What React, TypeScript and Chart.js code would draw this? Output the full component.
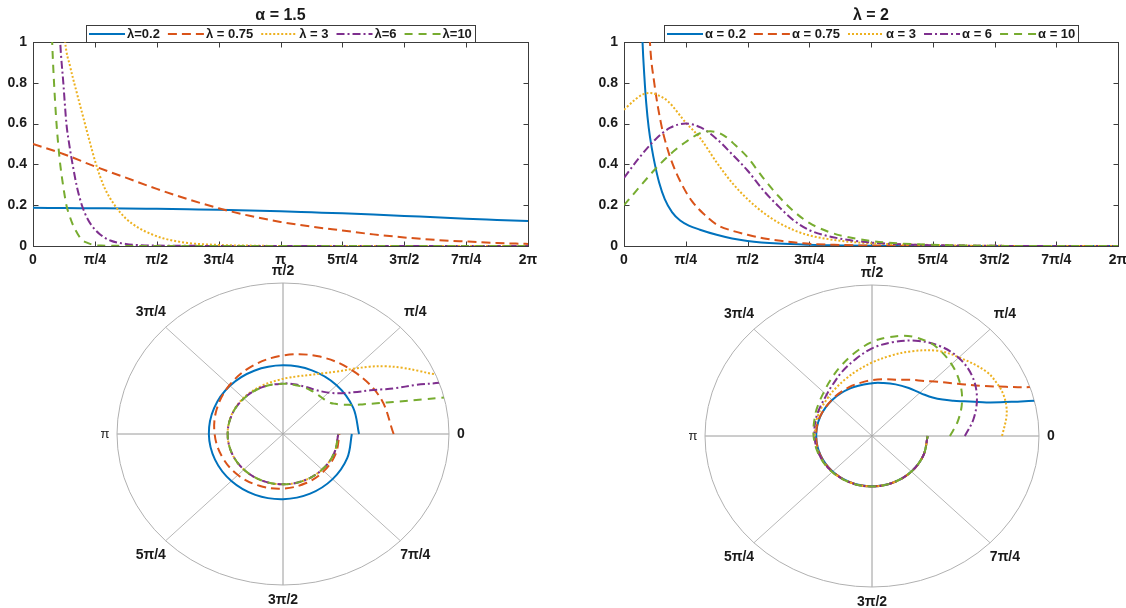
import React, { useEffect, useRef } from 'react';
import { Chart, registerables } from 'chart.js';

Chart.register(...registerables);

const FONT = '"Liberation Sans", Arial, Helvetica, sans-serif';
Chart.defaults.font.family = FONT;

const QUARTER = Math.PI / 4;

// ---- axis labels ----
const xTickLabels = ['0', 'π/4', 'π/2', '3π/4', 'π', '5π/4', '3π/2', '7π/4', '2π'];
const yTickValues = [0, 0.2, 0.4, 0.6, 0.8, 1];
const yTickLabels = ['0', '0.2', '0.4', '0.6', '0.8', '1'];
const polarAngleLabels = ['0', 'π/4', 'π/2', '3π/4', 'π', '5π/4', '3π/2', '7π/4'];
const polarRLim = [-0.5, 1];

const seriesColors = ['#0072BD', '#D95319', '#EDB120', '#7E2F8E', '#77AC30'];
const seriesDashes: number[][] = [[], [9, 5], [2, 2], [8, 3, 2, 3], [8, 6]];

// ---- left panel: alpha = 1.5 (angles in units of π/4) ----
const leftTitle = 'α = 1.5';
const leftNames = ['λ=0.2', 'λ = 0.75', 'λ = 3', 'λ=6', 'λ=10'];
const leftTheta1 = [0, 0.5, 1, 1.5, 2, 2.5, 3, 3.5, 4, 4.5, 5, 5.5, 6, 6.5, 7, 7.5, 8];
const leftF1 = [0.187, 0.186, 0.185, 0.184, 0.182, 0.18, 0.178, 0.174, 0.17, 0.165, 0.16, 0.154, 0.147, 0.141, 0.134, 0.128, 0.122];
const leftTheta2 = [0, 0.5, 1, 1.5, 2, 2.5, 3, 3.5, 4, 4.5, 5, 5.5, 6, 6.5, 7, 7.5, 8];
const leftF2 = [0.5, 0.45, 0.39, 0.335, 0.28, 0.23, 0.185, 0.148, 0.118, 0.095, 0.076, 0.057, 0.042, 0.03, 0.022, 0.015, 0.01];
const leftTheta3 = [0.45, 0.52, 0.6, 0.7, 0.8, 0.9, 1.02, 1.15, 1.32, 1.5, 1.7, 1.9, 2.1, 2.5, 3, 3.5, 4, 4.5, 5, 5.5, 6, 6.5, 7, 7.5, 8];
const leftF3 = [1.3, 1.0, 0.88, 0.76, 0.645, 0.53, 0.4, 0.29, 0.2, 0.135, 0.09, 0.06, 0.038, 0.015, 0.005, 0.002, 0, 0, 0, 0, 0, 0, 0, 0, 0];
const leftTheta4 = [0.4, 0.44, 0.49, 0.54, 0.59, 0.64, 0.71, 0.79, 0.87, 0.95, 1.08, 1.25, 1.5, 1.75, 2, 2.5, 3, 3.5, 4, 4.5, 5, 5.5, 6, 6.5, 7, 7.5, 8];
const leftF4 = [1.3, 1.0, 0.8, 0.6, 0.49, 0.4, 0.29, 0.2, 0.14, 0.1, 0.058, 0.027, 0.01, 0.004, 0.002, 0.001, 0, 0, 0, 0, 0, 0, 0, 0, 0, 0, 0];
const leftTheta5 = [0.28, 0.31, 0.34, 0.38, 0.41, 0.44, 0.49, 0.54, 0.6, 0.65, 0.72, 0.79, 0.88, 0.97, 1.1, 1.3, 1.6, 2, 2.5, 3, 3.5, 4, 4.5, 5, 5.5, 6, 6.5, 7, 7.5, 8];
const leftF5 = [1.3, 1.0, 0.8, 0.6, 0.49, 0.4, 0.29, 0.2, 0.14, 0.1, 0.06, 0.03, 0.015, 0.006, 0.002, 0.001, 0, 0, 0, 0, 0, 0, 0, 0, 0, 0, 0, 0, 0, 0];

// ---- right panel: lambda = 2 ----
const rightTitle = 'λ = 2';
const rightNames = ['α = 0.2', 'α = 0.75', 'α = 3', 'α = 6', 'α = 10'];
const rightTheta1 = [0.28, 0.3, 0.33, 0.36, 0.4, 0.45, 0.5, 0.57, 0.66, 0.78, 0.91, 1.05, 1.23, 1.5, 1.75, 2, 2.5, 3, 3.5, 4, 4.5, 5, 5.5, 6, 6.5, 7, 7.5, 8];
const rightF1 = [1.2, 1.0, 0.83, 0.7, 0.58, 0.48, 0.4, 0.31, 0.23, 0.165, 0.125, 0.1, 0.08, 0.055, 0.037, 0.025, 0.012, 0.006, 0.003, 0.001, 0, 0, 0, 0, 0, 0, 0, 0];
const rightTheta2 = [0.38, 0.42, 0.49, 0.6, 0.7, 0.79, 0.94, 1.1, 1.3, 1.5, 1.75, 2, 2.25, 2.5, 2.9, 3.5, 4, 4.5, 5, 5.5, 6, 6.5, 7, 7.5, 8];
const rightF2 = [1.3, 1.0, 0.8, 0.6, 0.48, 0.4, 0.3, 0.22, 0.155, 0.105, 0.075, 0.055, 0.038, 0.027, 0.013, 0.005, 0.002, 0.001, 0, 0, 0, 0, 0, 0, 0];
const rightTheta3 = [0, 0.19, 0.3, 0.42, 0.53, 0.71, 1.0, 1.23, 1.5, 1.75, 2, 2.25, 2.5, 2.75, 3, 3.5, 4, 4.5, 5, 5.5, 6, 6.5, 7, 7.5, 8];
const rightF3 = [0.668, 0.72, 0.742, 0.75, 0.742, 0.71, 0.605, 0.53, 0.41, 0.31, 0.23, 0.165, 0.115, 0.078, 0.052, 0.026, 0.013, 0.008, 0.005, 0.002, 0.001, 0, 0, 0, 0];
const rightTheta4 = [0, 0.24, 0.5, 0.75, 1.0, 1.25, 1.5, 1.75, 2, 2.25, 2.5, 2.75, 3, 3.5, 4, 4.5, 5, 5.5, 6, 6.5, 7, 7.5, 8];
const rightF4 = [0.334, 0.43, 0.52, 0.58, 0.6, 0.58, 0.525, 0.45, 0.37, 0.275, 0.195, 0.125, 0.078, 0.036, 0.017, 0.008, 0.004, 0.002, 0.001, 0, 0, 0, 0];
const rightTheta5 = [0, 0.24, 0.5, 0.75, 1.0, 1.25, 1.4, 1.6, 1.8, 2, 2.25, 2.5, 2.75, 3, 3.25, 3.5, 4, 4.5, 5, 5.5, 6, 6.5, 7, 7.5, 8];
const rightF5 = [0.2, 0.285, 0.375, 0.45, 0.51, 0.555, 0.562, 0.545, 0.495, 0.435, 0.335, 0.245, 0.17, 0.113, 0.077, 0.052, 0.025, 0.012, 0.006, 0.003, 0.001, 0, 0, 0, 0];

const leftThetas = [leftTheta1, leftTheta2, leftTheta3, leftTheta4, leftTheta5];
const leftValues = [leftF1, leftF2, leftF3, leftF4, leftF5];
const rightThetas = [rightTheta1, rightTheta2, rightTheta3, rightTheta4, rightTheta5];
const rightValues = [rightF1, rightF2, rightF3, rightF4, rightF5];

const TEXT = '#1a1a1a';

// ---- plugins ----
const framePlugin = {
  id: 'frame',
  beforeDatasetsDraw(chart: any) {
    const { ctx, chartArea: a, scales } = chart;
    const L = Math.round(a.left) + 0.5;
    const R = Math.round(a.right) + 0.5;
    const T = Math.round(a.top) + 0.5;
    const B = Math.round(a.bottom) + 0.5;
    ctx.save();
    ctx.strokeStyle = '#3c3c3c';
    ctx.lineWidth = 1;
    ctx.strokeRect(L, T, R - L, B - T);
    ctx.beginPath();
    xTickLabels.forEach((_l, i) => {
      const x = Math.round(scales.x.getPixelForValue(i * QUARTER)) + 0.5;
      ctx.moveTo(x, B); ctx.lineTo(x, B - 5);
      ctx.moveTo(x, T); ctx.lineTo(x, T + 5);
    });
    yTickValues.forEach((v) => {
      const y = Math.round(scales.y.getPixelForValue(v)) + 0.5;
      ctx.moveTo(L, y); ctx.lineTo(L + 5, y);
      ctx.moveTo(R, y); ctx.lineTo(R - 5, y);
    });
    ctx.stroke();
    ctx.restore();
  },
};

const panelLegendPlugin = {
  id: 'panelLegend',
  afterDraw(chart: any, _args: any, opts: any) {
    const { ctx, chartArea: a } = chart;
    const cx = (a.left + a.right) / 2;
    ctx.save();
    ctx.fillStyle = TEXT;
    ctx.textAlign = 'center';
    ctx.textBaseline = 'middle';
    ctx.font = `bold 16px ${FONT}`;
    ctx.fillText(opts.title, cx, 16);

    ctx.font = `bold 13px ${FONT}`;
    const items = chart.data.datasets;
    const widths = items.map((d: any) => ctx.measureText(d.label).width);
    const LINE = 36, G1 = 2, G2 = 8, PAD = 3;
    const total = 2 * PAD + items.length * (LINE + G1) + (items.length - 1) * G2 + widths.reduce((s: number, w: number) => s + w, 0);
    const x0 = Math.round(cx - total / 2);
    const y0 = 25;
    const h = 17;
    ctx.fillStyle = '#ffffff';
    ctx.fillRect(x0, y0, total, h);
    ctx.strokeStyle = '#3c3c3c';
    ctx.lineWidth = 1;
    ctx.strokeRect(x0 + 0.5, y0 + 0.5, Math.round(total), h);
    let x = x0 + PAD;
    const ym = y0 + h / 2 + 0.5;
    items.forEach((d: any, i: number) => {
      ctx.save();
      ctx.strokeStyle = d.borderColor;
      ctx.lineWidth = d.borderWidth;
      ctx.setLineDash(d.borderDash || []);
      ctx.beginPath();
      ctx.moveTo(x, ym);
      ctx.lineTo(x + LINE, ym);
      ctx.stroke();
      ctx.restore();
      x += LINE + G1;
      ctx.fillStyle = TEXT;
      ctx.textAlign = 'left';
      ctx.fillText(d.label, x, ym + 0.5);
      x += widths[i] + G2;
    });
    ctx.restore();
  },
};

const polarGridPlugin = {
  id: 'polarGrid',
  beforeDatasetsDraw(chart: any) {
    const { ctx, scales } = chart;
    const cx = scales.x.getPixelForValue(0);
    const cy = scales.y.getPixelForValue(0);
    const rx = scales.x.getPixelForValue(1) - cx;
    const ry = cy - scales.y.getPixelForValue(1);
    ctx.save();
    ctx.lineWidth = 1;
    polarAngleLabels.forEach((_l, k) => {
      const ang = k * QUARTER;
      ctx.strokeStyle = k % 2 === 0 ? '#9a9a9a' : '#b8b8b8';
      ctx.beginPath();
      ctx.moveTo(cx, cy);
      ctx.lineTo(cx + Math.cos(ang) * rx, cy - Math.sin(ang) * ry);
      ctx.stroke();
    });
    ctx.strokeStyle = '#b0b0b0';
    ctx.beginPath();
    ctx.ellipse(cx, cy, rx, ry, 0, 0, 2 * Math.PI);
    ctx.stroke();

    ctx.fillStyle = TEXT;
    ctx.textAlign = 'center';
    ctx.textBaseline = 'middle';
    polarAngleLabels.forEach((lab, k) => {
      const ang = k * QUARTER;
      let d = k % 2 === 0 ? 12 : 21;
      if (k === 6) d = 15;
      const px = cx + Math.cos(ang) * (rx + d);
      const py = cy - Math.sin(ang) * (ry + d);
      ctx.font = lab === 'π' ? `13px ${FONT}` : `bold 14px ${FONT}`;
      ctx.fillText(lab, px, py);
    });
    ctx.restore();

    ctx.save();
    ctx.beginPath();
    ctx.ellipse(cx, cy, rx, ry, 0, 0, 2 * Math.PI);
    ctx.clip();
  },
  afterDatasetsDraw(chart: any) {
    chart.ctx.restore();
  },
};

type Pad = { left: number; top: number; right: number; bottom: number };

function LinePanel(p: {
  left: number; top: number; width: number; height: number; pad: Pad; yWidth: number;
  title: string; names: string[]; thetas: number[][]; values: number[][];
}) {
  const ref = useRef<HTMLCanvasElement>(null);
  useEffect(() => {
    const tickFont = { size: 14, weight: 'bold' as const };
    const chart = new Chart(ref.current as HTMLCanvasElement, {
      type: 'line',
      data: {
        datasets: p.names.map((name, i) => ({
          label: name,
          data: p.thetas[i].map((t, j) => ({ x: t * QUARTER, y: p.values[i][j] })),
          borderColor: seriesColors[i],
          backgroundColor: seriesColors[i],
          borderWidth: 2,
          borderDash: seriesDashes[i],
          pointRadius: 0,
          fill: false,
          cubicInterpolationMode: 'monotone' as const,
          order: p.names.length - i,
        })),
      },
      options: {
        responsive: false,
        animation: false,
        layout: { padding: p.pad },
        plugins: {
          legend: { display: false },
          tooltip: { enabled: false },
          // @ts-ignore
          panelLegend: { title: p.title },
        },
        scales: {
          x: {
            type: 'linear',
            min: 0,
            max: 2 * Math.PI,
            afterBuildTicks: (s: any) => { s.ticks = xTickLabels.map((_l, i) => ({ value: i * QUARTER })); },
            afterFit: (s: any) => { s.height = 30; },
            ticks: {
              autoSkip: false, maxRotation: 0, padding: 6, color: TEXT, font: tickFont,
              callback: (_v: any, i: number) => xTickLabels[i],
            },
            grid: { display: false, drawTicks: false },
            border: { display: false },
          },
          y: {
            type: 'linear',
            min: 0,
            max: 1,
            afterBuildTicks: (s: any) => { s.ticks = yTickValues.map((v) => ({ value: v })); },
            afterFit: (s: any) => { s.width = p.yWidth; },
            ticks: {
              padding: 6, color: TEXT, font: tickFont,
              callback: (_v: any, i: number) => yTickLabels[i],
            },
            grid: { display: false, drawTicks: false },
            border: { display: false },
          },
        },
      },
      plugins: [framePlugin, panelLegendPlugin],
    } as any);
    return () => chart.destroy();
  }, []);
  return (
    <canvas
      ref={ref}
      width={p.width}
      height={p.height}
      style={{ position: 'absolute', left: p.left, top: p.top, width: p.width, height: p.height }}
    />
  );
}

function PolarPanel(p: {
  left: number; top: number; width: number; height: number; pad: Pad;
  names: string[]; thetas: number[][]; values: number[][];
}) {
  const ref = useRef<HTMLCanvasElement>(null);
  useEffect(() => {
    const span = polarRLim[1] - polarRLim[0];
    const chart = new Chart(ref.current as HTMLCanvasElement, {
      type: 'scatter',
      data: {
        datasets: p.names.map((name, i) => ({
          label: name,
          data: p.thetas[i].map((t, j) => {
            const r = (p.values[i][j] - polarRLim[0]) / span;
            const ang = t * QUARTER;
            return { x: r * Math.cos(ang), y: r * Math.sin(ang) };
          }),
          showLine: true,
          borderColor: seriesColors[i],
          backgroundColor: seriesColors[i],
          borderWidth: 2,
          borderDash: seriesDashes[i],
          pointRadius: 0,
          tension: 0.36,
          clip: false,
          order: p.names.length - i,
        })),
      },
      options: {
        responsive: false,
        animation: false,
        layout: { padding: p.pad },
        plugins: { legend: { display: false }, tooltip: { enabled: false } },
        scales: {
          x: { type: 'linear', min: -1, max: 1, display: false },
          y: { type: 'linear', min: -1, max: 1, display: false },
        },
      },
      plugins: [polarGridPlugin],
    } as any);
    return () => chart.destroy();
  }, []);
  return (
    <canvas
      ref={ref}
      width={p.width}
      height={p.height}
      style={{ position: 'absolute', left: p.left, top: p.top, width: p.width, height: p.height }}
    />
  );
}

export default function App() {
  return (
    <div
      style={{
        position: 'absolute', left: 0, top: 0, width: 1126, height: 608,
        overflow: 'hidden', background: '#ffffff',
      }}
    >
      <LinePanel
        left={0} top={0} width={560} height={285}
        pad={{ left: 0, top: 42, right: 32, bottom: 9 }} yWidth={33}
        title={leftTitle} names={leftNames} thetas={leftThetas} values={leftValues}
      />
      <LinePanel
        left={580} top={0} width={560} height={285}
        pad={{ left: 0, top: 42, right: 22, bottom: 9 }} yWidth={44}
        title={rightTitle} names={rightNames} thetas={rightThetas} values={rightValues}
      />
      <PolarPanel
        left={60} top={262} width={450} height={346}
        pad={{ left: 57, top: 21, right: 61, bottom: 23 }}
        names={leftNames} thetas={leftThetas} values={leftValues}
      />
      <PolarPanel
        left={640} top={262} width={460} height={346}
        pad={{ left: 65, top: 23, right: 61, bottom: 21 }}
        names={rightNames} thetas={rightThetas} values={rightValues}
      />
    </div>
  );
}
